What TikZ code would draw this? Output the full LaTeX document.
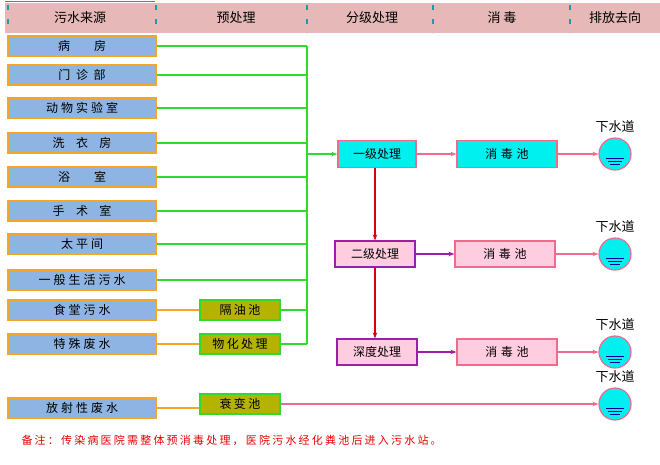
\documentclass[tikz,border=0pt]{standalone}
\usepackage{fontspec}
\setmainfont{Noto Sans CJK SC}
\usetikzlibrary{arrows, arrows.meta}
\usetikzlibrary{calc}
\definecolor{headpink}{HTML}{E6B9B8}
\definecolor{srcblue}{HTML}{8DB4E2}
\definecolor{srcedge}{HTML}{F5A623}
\definecolor{olivebox}{HTML}{B3B300}
\definecolor{lgreen}{HTML}{2EDB2E}
\definecolor{pinkline}{HTML}{F06A8C}
\definecolor{lightpink}{HTML}{FFCCE0}
\definecolor{violet2}{HTML}{9B1FA8}
\definecolor{teal2}{HTML}{1B9AAA}
\definecolor{aqua}{HTML}{00F0F0}
\tikzset{
  src/.style={draw=srcedge, fill=srcblue, line width=1.2pt, minimum width=148pt, minimum height=20pt, inner sep=0pt, font=\fontsize{12}{12}\selectfont\addfontfeatures{LetterSpace=25}},
  pre/.style={draw=lgreen, fill=olivebox, line width=1.2pt, minimum width=80pt, minimum height=20pt, inner sep=0pt, font=\fontsize{12}{12}\selectfont\addfontfeatures{LetterSpace=20}},
  cyanbox/.style={draw=pinkline, fill=aqua, line width=1.2pt, minimum height=27pt, inner sep=0pt, font=\fontsize{12}{12}\selectfont},
  pinkbox/.style={draw=violet2, fill=lightpink, line width=1.2pt, minimum width=80pt, minimum height=26pt, inner sep=0pt, font=\fontsize{12}{12}\selectfont},
  pool/.style={font=\fontsize{12}{12}\selectfont\addfontfeatures{LetterSpace=30}},
  sewer/.style={circle, draw=pinkline, fill=aqua, line width=1.2pt, minimum size=32pt, inner sep=0pt},
  head/.style={font=\fontsize{13}{13}\selectfont},
  gline/.style={draw=lgreen, line width=1.2pt},
  oline/.style={draw=srcedge, line width=1.2pt},
  parr/.style={draw=pinkline, line width=1.2pt, -{Stealth[length=6pt]}},
}
\begin{document}
\begin{tikzpicture}[x=1pt, y=-1pt]
    \useasboundingbox (0,0) rectangle (660,464);
    \draw[blue!60, line width=1pt] (5,1) -- (155,1);
    % header
    \fill[headpink] (5,3) rectangle (660,33);
    \foreach \x in {8,156,307,433,570}
      \draw[teal2, line width=1.2pt, dash pattern=on 5pt off 9pt] (\x,5) -- (\x,33);
    \node[head] (h1) at (80,18) {污水来源};
    \node[head] (h2) at (236,18) {预处理};
    \node[head] (h3) at (372,18) {分级处理};
    \node[head] (h4) at (502,18) {消\ 毒};
    \node[head] (h5) at (615,18) {排放去向};

    % sources
    \node[src] (s1) at (82,46) {病\qquad 房};
    \node[src] (s2) at (82,75) {门\ 诊\ 部};
    \node[src] (s3) at (82,108) {动物实验室};
    \node[src] (s4) at (82,143) {洗\ \ 衣\ \ 房};
    \node[src] (s5) at (82,177) {浴\qquad 室};
    \node[src] (s6) at (82,211) {手\ \ 术\ \ 室};
    \node[src] (s7) at (82,244) {太平间};
    \node[src] (s8) at (82,280) {一般生活污水};
    \node[src] (s9) at (82,310) {食堂污水};
    \node[src] (s10) at (82,344) {特殊废水};
    \node[src] (s11) at (82,408) {放射性废水};

    % pretreatment
    \node[pre] (oil) at (240,310) {隔油池};
    \node[pre] (chem) at (240,344) {物化处理};
    \node[pre] (decay) at (240,404) {衰变池};

    \coordinate (bus top) at (307,46);
    \coordinate (bus bot) at (307,344);
    \foreach \s in {s1,s2,s3,s4,s5,s6,s7,s8}
      \draw[gline] (\s.east) -- (\s.east -| bus top);
    \draw[gline] (bus top) -- (bus bot);
    \draw[oline] (s9) -- (oil);
    \draw[oline] (s10) -- (chem);
    \draw[oline] (s11.east) -- (s11.east -| decay.west);
    \draw[gline] (oil.east) -- (oil.east -| bus top);
    \draw[gline] (chem.east) -- (bus bot);

    % graded treatment
    \node[cyanbox, minimum width=78pt] (p1) at (377,154) {一级处理};
    \node[pinkbox] (p2) at (375,254) {二级处理};
    \node[pinkbox] (p3) at (377,352) {深度处理};
    \coordinate (bus in) at (307,154);
    \draw[gline, -{Stealth[length=6pt]}] (bus in) -- (p1);
    \draw[draw=red!85!black, line width=1.2pt, -{Stealth[length=6pt]}] (p1.south -| p2) -- (p2.north);
    \draw[draw=red!85!black, line width=1.2pt, -{Stealth[length=6pt]}] (p2.south) -- (p2.south |- p3.north);

    % disinfection
    \node[cyanbox, pool, minimum width=100pt] (d1) at (507,154) {消毒池};
    \node[pinkbox, pool, draw=pinkline, minimum width=100pt] (d2) at (505,254) {消毒池};
    \node[pinkbox, pool, draw=pinkline, minimum width=100pt] (d3) at (507,352) {消毒池};
    \draw[parr] (p1) -- (d1);
    \draw[draw=violet2, line width=1.2pt, -{Stealth[length=6pt]}] (p2) -- (d2);
    \draw[draw=violet2, line width=1.2pt, -{Stealth[length=6pt]}] (p3) -- (d3);

    % sewers
    \foreach \n/\y in {w1/154, w2/254, w3/352, w4/404}{
      \node[sewer, label={[head, yshift=1pt]above:下水道}] (\n) at (615,\y) {};
      \foreach \dy in {4,7,10}
        \draw[blue!60!black, line width=0.8pt] ($(\n.center)+(-11+\dy*0.6,\dy)$) -- ($(\n.center)+(11-\dy*0.6,\dy)$);
    }
    \draw[parr] (d1) -- (w1);
    \draw[parr] (d2) -- (w2);
    \draw[parr] (d3) -- (w3);
    \draw[parr] (decay) -- (w4);

    % note
    \node[anchor=west, text=red!90!black, font=\fontsize{11}{11}\selectfont\addfontfeatures{LetterSpace=20}] (note) at (18,440) {备注：传染病医院需整体预消毒处理，医院污水经化粪池后进入污水站。};
\end{tikzpicture}
\end{document}
